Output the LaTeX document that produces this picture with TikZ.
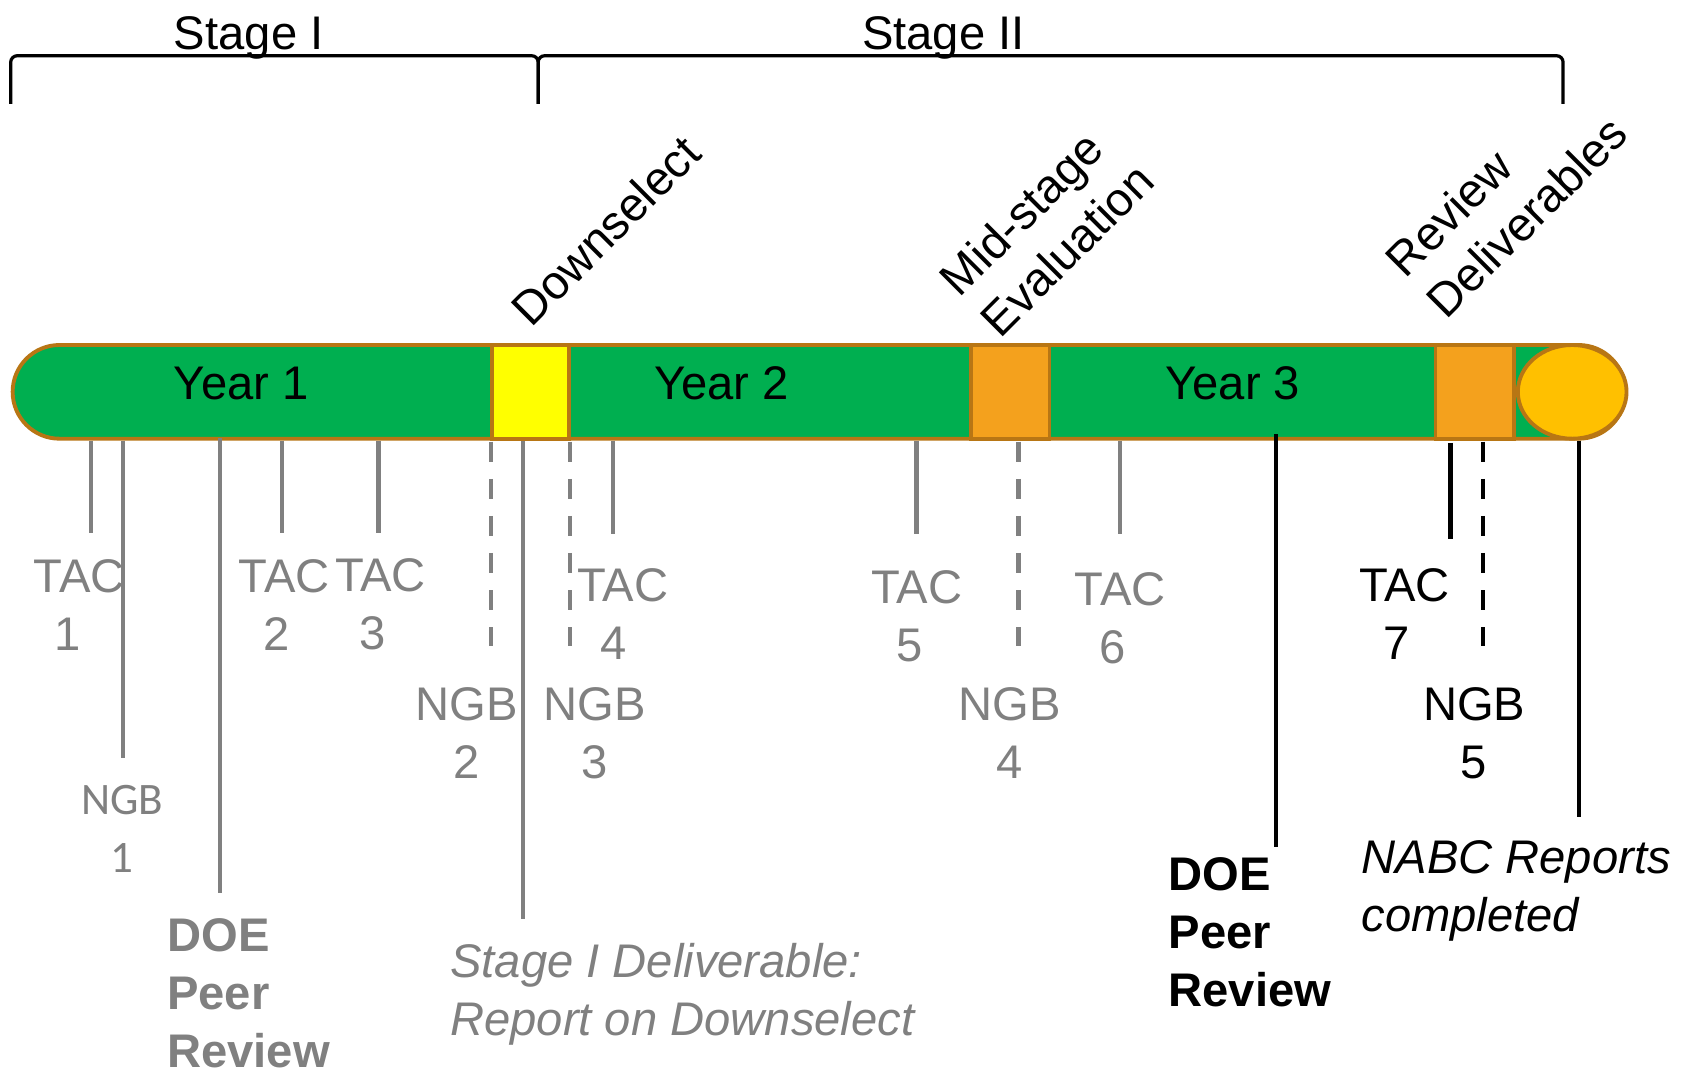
\documentclass[tikz,border=0pt]{standalone}
\usepackage{fontspec}
\setmainfont{Liberation Sans}
\newfontfamily\calibrifont{Carlito}
\usetikzlibrary{shapes.misc,shapes.geometric}
\definecolor{barbrown}{RGB}{184,118,20}
\definecolor{bargreen}{RGB}{0,175,80}
\definecolor{barorange}{RGB}{244,161,29}
\definecolor{baryellow}{RGB}{255,255,0}
\definecolor{endgold}{RGB}{255,192,0}
\definecolor{tickgray}{RGB}{128,128,128}
\begin{document}
\begin{tikzpicture}[x=0.5pt,y=-0.5pt,
  lbl/.style={font=\fontsize{22pt}{27pt}\selectfont, inner sep=0pt, outer sep=0pt, align=center},
  glbl/.style={lbl, text=tickgray},
  seg/.style={draw=barbrown, line width=1.8pt, inner sep=0pt, minimum height=43.7pt},
  tick/.style={draw=tickgray, line width=2pt},
  dtick/.style={tick, dash pattern=on 9.3pt off 8pt},
  btick/.style={draw=black, line width=2pt},
  bdtick/.style={btick, dash pattern=on 9.3pt off 8pt},
  brace/.style={draw=black, line width=1.5pt, rounded corners=3pt}]
\fill[white] (0,0) rectangle (1568,1002);
\useasboundingbox (0,0) rectangle (1568,1002);

% stage brackets
\coordinate (bl) at (10,97);
\coordinate (bm) at (502,97);
\coordinate (br) at (1458,97);
\draw[brace] (bl) -- (10,52) -- (502,52) -- (bm);
\draw[brace] (bm) -- (502,52) -- (1458,52) -- (br);
\node[lbl, anchor=base] (stage1) at (232,46) {Stage I};
\node[lbl, anchor=base] (stage2) at (880,46) {Stage II};

% the bar
\node[seg, fill=bargreen, rounded rectangle, minimum width=752.2pt] (bar) at (764,365.5) {};
\node[seg, fill=baryellow, rectangle, minimum width=36pt] (dsel) at (495,365.5) {};
\node[seg, fill=barorange, rectangle, minimum width=36.5pt] (mid) at (942.5,365.5) {};
\node[seg, fill=barorange, rectangle, minimum width=36.5pt] (rev) at (1375.5,365.5) {};
\node[seg, fill=endgold, ellipse, minimum width=50.7pt] (fin) at (1466.5,365.5) {};

\node[lbl, anchor=base] (y1) at (225,373) {Year 1};
\node[lbl, anchor=base] (y2) at (673,373) {Year 2};
\node[lbl, anchor=base] (y3) at (1150,373) {Year 3};

% rotated labels
\node[lbl, rotate=45] (downsel) at (565,215) {Downselect};
\node[lbl, align=left, rotate=45] (midstage) at (976,214) {Mid-stage\\Evaluation};
\node[lbl, align=left, rotate=45] (revdel) at (1405,183) {Review\\Deliverables};

% tick coordinates
\coordinate (t1a) at (85,411);   \coordinate (t1b) at (85,497);
\coordinate (n1a) at (115,411);  \coordinate (n1b) at (115,707);
\coordinate (d1a) at (205,409);  \coordinate (d1b) at (205,833);
\coordinate (t2a) at (263,411);  \coordinate (t2b) at (263,497);
\coordinate (t3a) at (353,411);  \coordinate (t3b) at (353,497);
\coordinate (n2a) at (458,412);  \coordinate (n2b) at (458,603);
\coordinate (s1a) at (488,411);  \coordinate (s1b) at (488,857);
\coordinate (n3a) at (532,412);  \coordinate (n3b) at (532,603);
\coordinate (t4a) at (572,411);  \coordinate (t4b) at (572,498);
\coordinate (t5a) at (855,411);  \coordinate (t5b) at (855,498);
\coordinate (n4a) at (950,412);  \coordinate (n4b) at (950,603);
\coordinate (t6a) at (1045,411); \coordinate (t6b) at (1045,498);
\coordinate (d2a) at (1190,405); \coordinate (d2b) at (1190,790);
\coordinate (t7a) at (1353,413); \coordinate (t7b) at (1353,503);
\coordinate (n5a) at (1383,412); \coordinate (n5b) at (1383,603);
\coordinate (nra) at (1473,411); \coordinate (nrb) at (1473,762);

\draw[tick] (t1a) -- (t1b);
\draw[tick] (n1a) -- (n1b);
\draw[tick] (d1a) -- (d1b);
\draw[tick] (t2a) -- (t2b);
\draw[tick] (t3a) -- (t3b);
\draw[dtick] (n2a) -- (n2b);
\draw[tick] (s1a) -- (s1b);
\draw[dtick] (n3a) -- (n3b);
\draw[tick] (t4a) -- (t4b);
\draw[tick] (t5a) -- (t5b);
\draw[dtick] (n4a) -- (n4b);
\draw[tick] (t6a) -- (t6b);
\draw[btick] (d2a) -- (d2b);
\draw[btick] (t7a) -- (t7b);
\draw[bdtick] (n5a) -- (n5b);
\draw[btick] (nra) -- (nrb);

% labels
\node[glbl] (tac1) at (74,564) {TAC\\1\kern11pt};
\node[glbl] (tac2) at (265,564) {TAC\\2\kern7pt};
\node[glbl] (tac3) at (355,564) {TAC\\3\kern7pt};
\node[glbl] (tac4) at (581,572.5) {TAC\\4\kern9pt};
\node[glbl] (tac5) at (855,575) {TAC\\5\kern7pt};
\node[glbl] (tac6) at (1045,577) {TAC\\6\kern7pt};
\node[lbl] (tac7) at (1310,572.5) {TAC\\7\kern7pt};
\node[glbl, font=\calibrifont\fontsize{21pt}{27pt}\selectfont] (ngb1) at (114,773) {NGB\\1};
\node[glbl] (ngb2) at (435,684) {NGB\\2};
\node[glbl] (ngb3) at (555,684) {NGB\\3};
\node[glbl] (ngb4) at (942,684) {NGB\\4};
\node[lbl] (ngb5) at (1375,684) {NGB\\5};

\node[glbl, align=left, anchor=north west, font=\fontsize{22pt}{27pt}\selectfont\bfseries] (doe1) at (156,857) {DOE\\Peer\\Review};
\node[lbl, align=left, anchor=north west, font=\fontsize{22pt}{27pt}\selectfont\bfseries] (doe2) at (1090,800) {DOE\\Peer\\Review};
\node[glbl, align=left, anchor=north west, font=\fontsize{22pt}{27pt}\selectfont\itshape] (s1del) at (420,880) {Stage I Deliverable:\\Report on Downselect};
\node[lbl, align=left, anchor=north west, font=\fontsize{22pt}{27pt}\selectfont\itshape] (nabc) at (1270,784) {NABC Reports\\completed};
\end{tikzpicture}
\end{document}
